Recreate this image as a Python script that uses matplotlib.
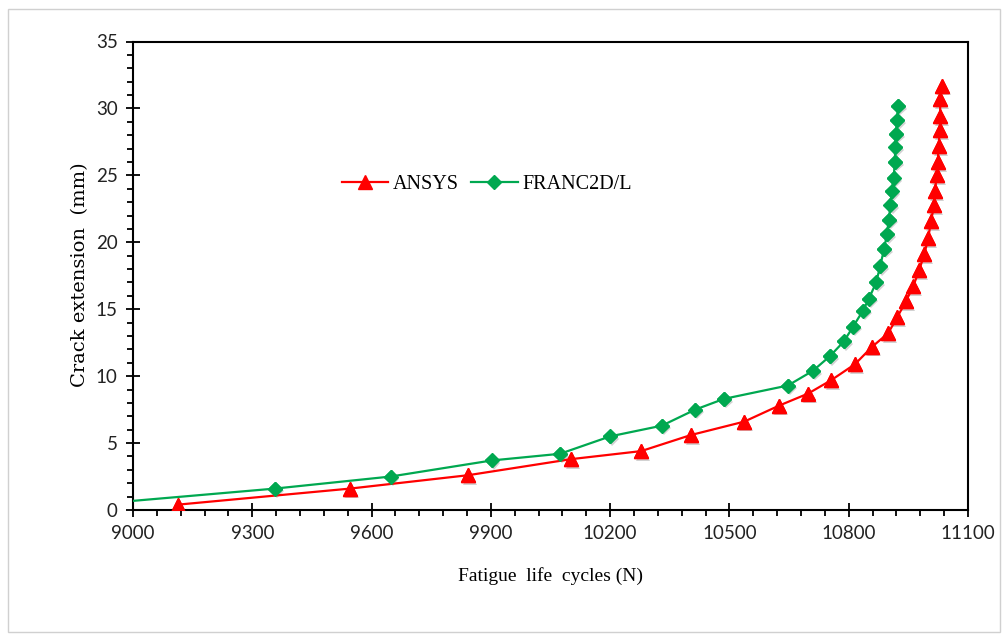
import matplotlib
matplotlib.use("Agg")
import matplotlib.pyplot as plt
import matplotlib.patheffects as pe
from matplotlib.ticker import MultipleLocator
from matplotlib.patches import Rectangle

# ---- data ----
ansys_cycles = [9113, 9546, 9843, 10102, 10278, 10403, 10537, 10625, 10698, 10756,
                10816, 10859, 10899, 10922, 10944, 10962, 10977, 10990, 11000, 11007,
                11015, 11017, 11021, 11024, 11026, 11029, 11030, 11030, 11034]
ansys_crack = [0.4, 1.6, 2.6, 3.8, 4.4, 5.6, 6.6, 7.8, 8.7, 9.7,
               10.9, 12.2, 13.2, 14.4, 15.6, 16.7, 17.9, 19.1, 20.3, 21.6,
               22.8, 23.8, 25.0, 26.0, 27.2, 28.4, 29.4, 30.7, 31.7]

franc_cycles = [8820, 9357, 9648, 9902, 10074, 10200, 10330, 10414, 10486, 10647,
                10710, 10753, 10788, 10811, 10836, 10851, 10869, 10879, 10889, 10896,
                10901, 10905, 10908, 10913, 10916, 10917, 10919, 10921, 10924]
franc_crack = [0.22, 1.6, 2.5, 3.7, 4.2, 5.5, 6.3, 7.5, 8.3, 9.3,
               10.4, 11.5, 12.6, 13.7, 14.9, 15.8, 17.0, 18.2, 19.5, 20.6,
               21.7, 22.8, 23.8, 24.8, 26.0, 27.1, 28.1, 29.1, 30.2]

x_ticks = [9000, 9300, 9600, 9900, 10200, 10500, 10800, 11100]
y_ticks = [0, 5, 10, 15, 20, 25, 30, 35]

RED = "#FF0000"
GREEN = "#00A850"

W, H = 1006, 637
fig = plt.figure(figsize=(W / 100, H / 100), dpi=100)
fig.patch.set_facecolor("white")
fig.patches.append(Rectangle((8 / W, 1 - 632 / H), 992 / W, 623 / H,
                             transform=fig.transFigure, fill=False,
                             edgecolor="#d0d0d0", linewidth=1.0))

ax = fig.add_axes([133 / W, 1 - 510 / H, (968 - 133) / W, (510 - 41.5) / H])

shadow = [pe.SimplePatchShadow(offset=(1.5, -2), shadow_rgbFace="#808080", alpha=0.35), pe.Normal()]

ax.plot(ansys_cycles, ansys_crack, color=RED, lw=1.6, zorder=3, label="ANSYS",
        marker="^", ms=10, markerfacecolor=RED, markeredgecolor=RED)
ax.plot(franc_cycles, franc_crack, color=GREEN, lw=1.6, zorder=3, label="FRANC2D/L",
        marker="D", ms=6.8, markerfacecolor=GREEN, markeredgecolor=GREEN)
# marker shadows
ax.plot(ansys_cycles, ansys_crack, ls="none", marker="^", ms=10, color=RED,
        zorder=2, path_effects=shadow)
ax.plot(franc_cycles, franc_crack, ls="none", marker="D", ms=6.8, color=GREEN,
        zorder=2, path_effects=shadow)

ax.set_xlim(x_ticks[0], x_ticks[-1])
ax.set_ylim(y_ticks[0], y_ticks[-1])
ax.set_xticks(x_ticks)
ax.set_yticks(y_ticks)
ax.xaxis.set_minor_locator(MultipleLocator(60))
ax.yaxis.set_minor_locator(MultipleLocator(1))

for s in ax.spines.values():
    s.set_linewidth(1.5)
    s.set_color("black")

ax.tick_params(axis="both", which="major", direction="inout", length=10, width=1.3,
               labelsize=13.5, pad=6)
ax.tick_params(axis="both", which="minor", direction="out", length=4, width=1.3)
ax.tick_params(top=False, right=False, which="both")
for lab in ax.get_xticklabels() + ax.get_yticklabels():
    lab.set_fontfamily("Lato")
    lab.set_color("#222222")

ax.set_xlabel("Fatigue  life  cycles (N)", fontfamily="Liberation Serif", fontsize=14, labelpad=18)
ax.set_ylabel("Crack extension  (mm)", fontfamily="DejaVu Serif", fontsize=14)
ax.yaxis.set_label_coords((89 - 133) / (968 - 133), (510 - 275) / (510 - 41.5))

leg = ax.legend(loc="center", bbox_to_anchor=((487 - 133) / (968 - 133), (510 - 184) / (510 - 41.5)),
                ncol=2, frameon=False, prop={"family": "Liberation Serif", "size": 14.5},
                handlelength=2.3, handletextpad=0.25, columnspacing=0.6)

fig.savefig("out.png", dpi=100)
